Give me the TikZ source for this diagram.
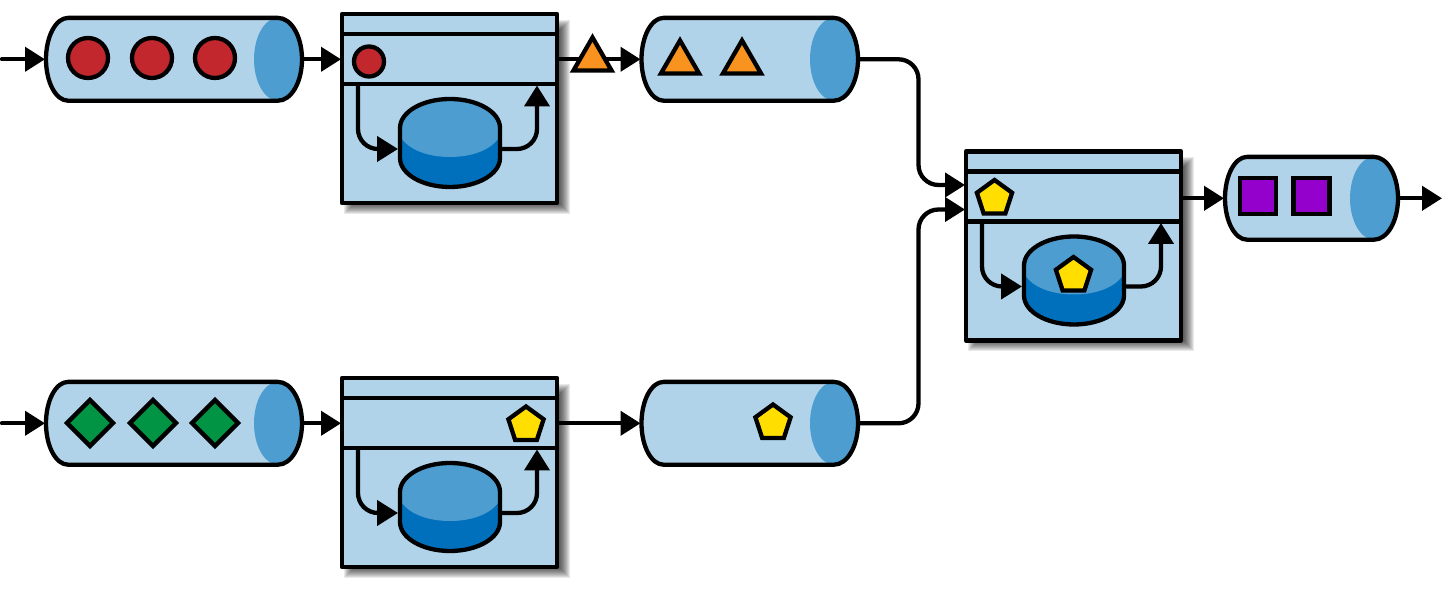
\documentclass[tikz,border=0pt]{standalone}
\usetikzlibrary{arrows.meta,shapes.geometric,calc}
\definecolor{lightb}{HTML}{B0D3EA}
\definecolor{midb}{HTML}{4D9DD0}
\definecolor{darkb}{HTML}{0070BC}
\definecolor{tokred}{HTML}{C1272D}
\definecolor{tokgreen}{HTML}{009444}
\definecolor{tokorange}{HTML}{F7931E}
\definecolor{tokyellow}{HTML}{FFDE00}
\definecolor{tokpurple}{HTML}{9400CC}
\tikzset{
  lw/.style={line width=4.3pt,line join=round},
  flow/.style={lw,-{Triangle[length=20pt,width=24pt]},shorten >=1pt},
  inner/.style={lw,rounded corners=20pt,-{Triangle[length=21pt,width=25pt]}},
  anchorbox/.style={inner sep=0,outer sep=0,minimum width=#1,minimum height=82pt},
  framebox/.style={draw,lw,fill=lightb,inner sep=0,outer sep=0,minimum width=215pt,minimum height=189pt,anchor=north west},
  tok/.style={draw,line width=4.3pt,inner sep=0,outer sep=0,miter limit=10},
  redtok/.style={tok,circle,fill=tokred,minimum size=#1},
  greentok/.style={tok,diamond,aspect=1,fill=tokgreen,minimum size=46pt},
  oratok/.style={tok,regular polygon,regular polygon sides=3,fill=tokorange,minimum size=44pt},
  yeltok/.style={tok,regular polygon,regular polygon sides=5,fill=tokyellow,minimum size=37pt},
  purtok/.style={tok,rectangle,fill=tokpurple,minimum size=36pt}
}
% name, left, right, y centre (image coordinates)
\newcommand{\myqueue}[4]{%
  \pgfmathsetmacro{\qw}{#3-#2}
  \begin{scope}[shift={(#2,593-#4)}]
    \node[anchorbox=\qw pt,anchor=west] (#1) at (0,0) {};
    \fill[lightb] (22,41.4) -- (\qw-24,41.4) arc[start angle=90,end angle=-90,x radius=24pt,y radius=41.4pt]
      -- (22,-41.4) arc[start angle=270,end angle=90,x radius=22pt,y radius=41.4pt] -- cycle;
    \fill[midb] (\qw-24,0) ellipse[x radius=24pt,y radius=41.4pt];
    \draw[lw] (22,41.4) -- (\qw-24,41.4) arc[start angle=90,end angle=-90,x radius=24pt,y radius=41.4pt]
      -- (22,-41.4) arc[start angle=270,end angle=90,x radius=22pt,y radius=41.4pt] -- cycle;
  \end{scope}}
% name, left, top (image coordinates)
\newcommand{\myproc}[3]{%
  \begin{scope}[shift={(#2,593-#3)}]
    \foreach \s in {-6,...,6} {
      \fill[black,opacity=.085] (8+\s,-12-\s) rectangle (222-\s,-194+\s);
    }
    \node[framebox] (#1) at (0,0) {};
    \draw[lw] (0,-20) -- (215,-20);
    \draw[lw] (0,-70) -- (215,-70);
    \node[inner sep=0,outer sep=0,minimum width=100pt,minimum height=88pt,anchor=north west] (#1cyl) at (58,-85) {};
    \coordinate (#1rowa) at (16,-70);
    \coordinate (#1rowb) at (195,-71.5);
    \coordinate (#1ci) at (56,-135);
    \coordinate (#1co) at (158,-135);
    \fill[darkb] (58,-114) arc[start angle=180,end angle=0,x radius=50pt,y radius=29pt]
      -- (158,-144) arc[start angle=0,end angle=-180,x radius=50pt,y radius=29pt] -- cycle;
    \fill[midb] (58,-114) arc[start angle=180,end angle=0,x radius=50pt,y radius=29pt]
      -- (158,-122) .. controls (150,-136) and (130,-143) .. (108,-143) .. controls (86,-143) and (66,-136) .. (58,-122) -- cycle;
    \draw[lw] (58,-114) arc[start angle=180,end angle=0,x radius=50pt,y radius=29pt]
      -- (158,-144) arc[start angle=0,end angle=-180,x radius=50pt,y radius=29pt] -- cycle;
    \draw[inner] (#1rowa) |- (#1ci);
    \draw[inner] (#1co) -| (#1rowb);
  \end{scope}}
\begin{document}
\begin{tikzpicture}[x=1pt,y=1pt]
\useasboundingbox (0,0) rectangle (1442,593);
\myqueue{qa}{46}{302}{59.3}
\myqueue{qb}{641.5}{858}{59.3}
\myqueue{qc}{46}{302}{423.3}
\myqueue{qd}{641.5}{858}{423.3}
\myqueue{qe}{1225}{1398}{198.3}
\myproc{pa}{342}{14}
\myproc{pb}{342}{378}
\myproc{pc}{966}{151.5}
\coordinate (startA) at (2,593-59.3);
\coordinate (startC) at (2,593-423.3);
\coordinate (endE) at (1442,593-198.3);
\coordinate (mergeA) at (918.5,593-100);
\coordinate (mergeB) at (918.5,593-300);
\coordinate (inA) at ($(pc.west)+(0,593-184.5-593+245.5)$);
\coordinate (inB) at ($(pc.west)+(0,593-209-593+245.5)$);
% connectors
\draw[flow,line cap=round] (startA) -- (qa.west);
\draw[flow,line cap=round] (startC) -- (qc.west);
\draw[flow] (qa.east) -- (qa.east -| pa.west);
\draw[flow] (qc.east) -- (qc.east -| pb.west);
\draw[flow] (qb.west -| pa.east) -- (qb.west);
\draw[flow] (qd.west -| pb.east) -- (qd.west);
\draw[flow,rounded corners=20pt] (qb.east) -| (mergeA) |- (inA);
\draw[flow,rounded corners=20pt] (qd.east) -| (mergeB) |- (inB);
\draw[flow] (qe.west -| pc.east) -- (qe.west);
\draw[lw,-{Triangle[length=20pt,width=24pt]}] (qe.east) -- (endE);
% tokens
\node[redtok=40pt] (t1) at (88,593-58) {};
\node[redtok=40pt] (t2) at (152,593-58) {};
\node[redtok=40pt] (t3) at (215,593-58) {};
\node[redtok=30pt] (t4) at (369,593-61.5) {};
\node[oratok] (t5) at (592.5,593-59.5) {};
\node[oratok] (t6) at (680,593-62.5) {};
\node[oratok] (t7) at (742,593-62.5) {};
\node[greentok] (t8) at (90,593-423) {};
\node[greentok] (t9) at (153,593-423) {};
\node[greentok] (t10) at (215,593-423) {};
\node[yeltok] (t11) at (526,593-425) {};
\node[yeltok] (t12) at (773,593-423) {};
\node[yeltok] (t13) at (994.5,593-198.5) {};
\node[yeltok] (t14) at (1073.5,593-275.5) {};
\node[purtok] (t15) at (1258,593-196) {};
\node[purtok] (t16) at (1311.5,593-196) {};
\end{tikzpicture}
\end{document}
